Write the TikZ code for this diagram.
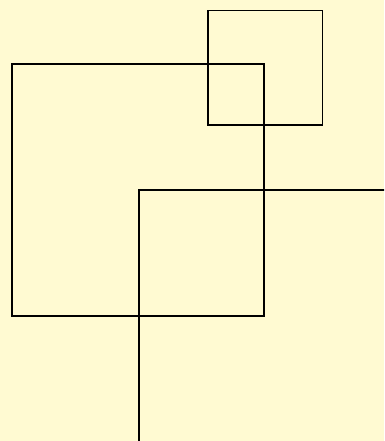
\documentclass[tikz,border=0pt]{standalone}
\definecolor{bgyellow}{HTML}{FFFAD2}
\tikzset{sq/.style={draw=black, line width=1.3pt}}
\begin{document}
\begin{tikzpicture}[x=1pt,y=-1pt]
\fill[bgyellow] (0,0) rectangle (384,441);
\useasboundingbox (0,0) rectangle (384,441);
\begin{scope}
\clip (0,0) rectangle (384,441);
\draw[sq] (12,64) rectangle (264,316);
\draw[sq] (208,10.5) rectangle (322.5,125);
\draw[sq] (139,190) rectangle (391,442);
\end{scope}
\end{tikzpicture}
\end{document}
